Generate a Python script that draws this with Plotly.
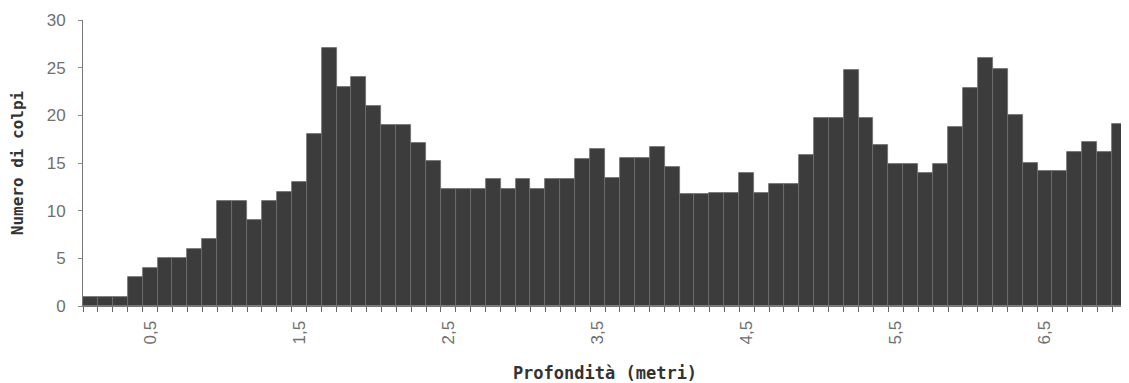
import plotly.graph_objects as go

depth = [0.1, 0.2, 0.3, 0.4, 0.5, 0.6, 0.7, 0.8, 0.9, 1.0,
         1.1, 1.2, 1.3, 1.4, 1.5, 1.6, 1.7, 1.8, 1.9, 2.0,
         2.1, 2.2, 2.3, 2.4, 2.5, 2.6, 2.7, 2.8, 2.9, 3.0,
         3.1, 3.2, 3.3, 3.4, 3.5, 3.6, 3.7, 3.8, 3.9, 4.0,
         4.1, 4.2, 4.3, 4.4, 4.5, 4.6, 4.7, 4.8, 4.9, 5.0,
         5.1, 5.2, 5.3, 5.4, 5.5, 5.6, 5.7, 5.8, 5.9, 6.0,
         6.1, 6.2, 6.3, 6.4, 6.5, 6.6, 6.7, 6.8, 6.9, 7.0]

colpi = [0.9, 0.9, 0.9, 3, 4, 5, 5, 6, 7, 11,
         11, 9, 11, 12, 13, 18, 27.1, 23, 24, 21,
         19, 19, 17.1, 15.2, 12.3, 12.3, 12.3, 13.3, 12.3, 13.3,
         12.3, 13.3, 13.3, 15.4, 16.5, 13.4, 15.5, 15.5, 16.7, 14.6,
         11.8, 11.8, 11.9, 11.9, 13.9, 11.9, 12.8, 12.8, 15.8, 19.7,
         19.7, 24.8, 19.7, 16.9, 14.9, 14.9, 14.0, 14.9, 18.8, 22.9,
         26.0, 24.9, 20.0, 15.0, 14.2, 14.2, 16.2, 17.2, 16.2, 19.1]

x_tickvals = [0.5, 1.5, 2.5, 3.5, 4.5, 5.5, 6.5]
x_ticktext = ["0,5", "1,5", "2,5", "3,5", "4,5", "5,5", "6,5"]
y_tickvals = [0, 5, 10, 15, 20, 25, 30]

fig = go.Figure()
fig.add_trace(go.Bar(
    x=depth, y=colpi, width=0.1,
    marker=dict(color="#3c3c3c", line=dict(color="#6e6e6e", width=0.8)),
    showlegend=False,
))

tick_font = dict(family="Liberation Sans, Arial, sans-serif", size=17, color="#707070")
title_font = dict(family="DejaVu Sans Mono, monospace", size=17, color="#333333")
ytitle_font = dict(family="DejaVu Sans Mono, monospace", size=16, color="#333333")

# page body has an 8px margin, so the figure is sized/offset to compensate
fig.update_layout(
    width=1121, height=375,
    margin=dict(l=75, r=2, t=12, b=77, autoexpand=False),
    paper_bgcolor="white", plot_bgcolor="white",
    bargap=0,
    xaxis=dict(
        range=[0.05, 7.05], automargin=False,
        tickvals=x_tickvals, ticktext=x_ticktext,
        tickangle=-90, tickfont=tick_font,
        ticks="", ticklabelstandoff=7,
        showgrid=False, zeroline=False,
        showline=True, linecolor="#777777", linewidth=1,
        minor=dict(ticks="outside", tick0=0.05, dtick=0.1, ticklen=5,
                   tickcolor="#666666", showgrid=False),
        title=dict(text="<b>Profondità (metri)</b>", font=title_font, standoff=23),
    ),
    yaxis=dict(
        range=[0, 30], tickvals=y_tickvals, automargin=False,
        tickfont=tick_font, ticks="outside", ticklen=4, tickcolor="#888888",
        ticklabelstandoff=9,
        showgrid=False, zeroline=False,
        showline=True, linecolor="#777777", linewidth=1,
        title=dict(text="<b>Numero di colpi</b>", font=ytitle_font, standoff=23),
    ),
)

fig.write_html("out.html")
